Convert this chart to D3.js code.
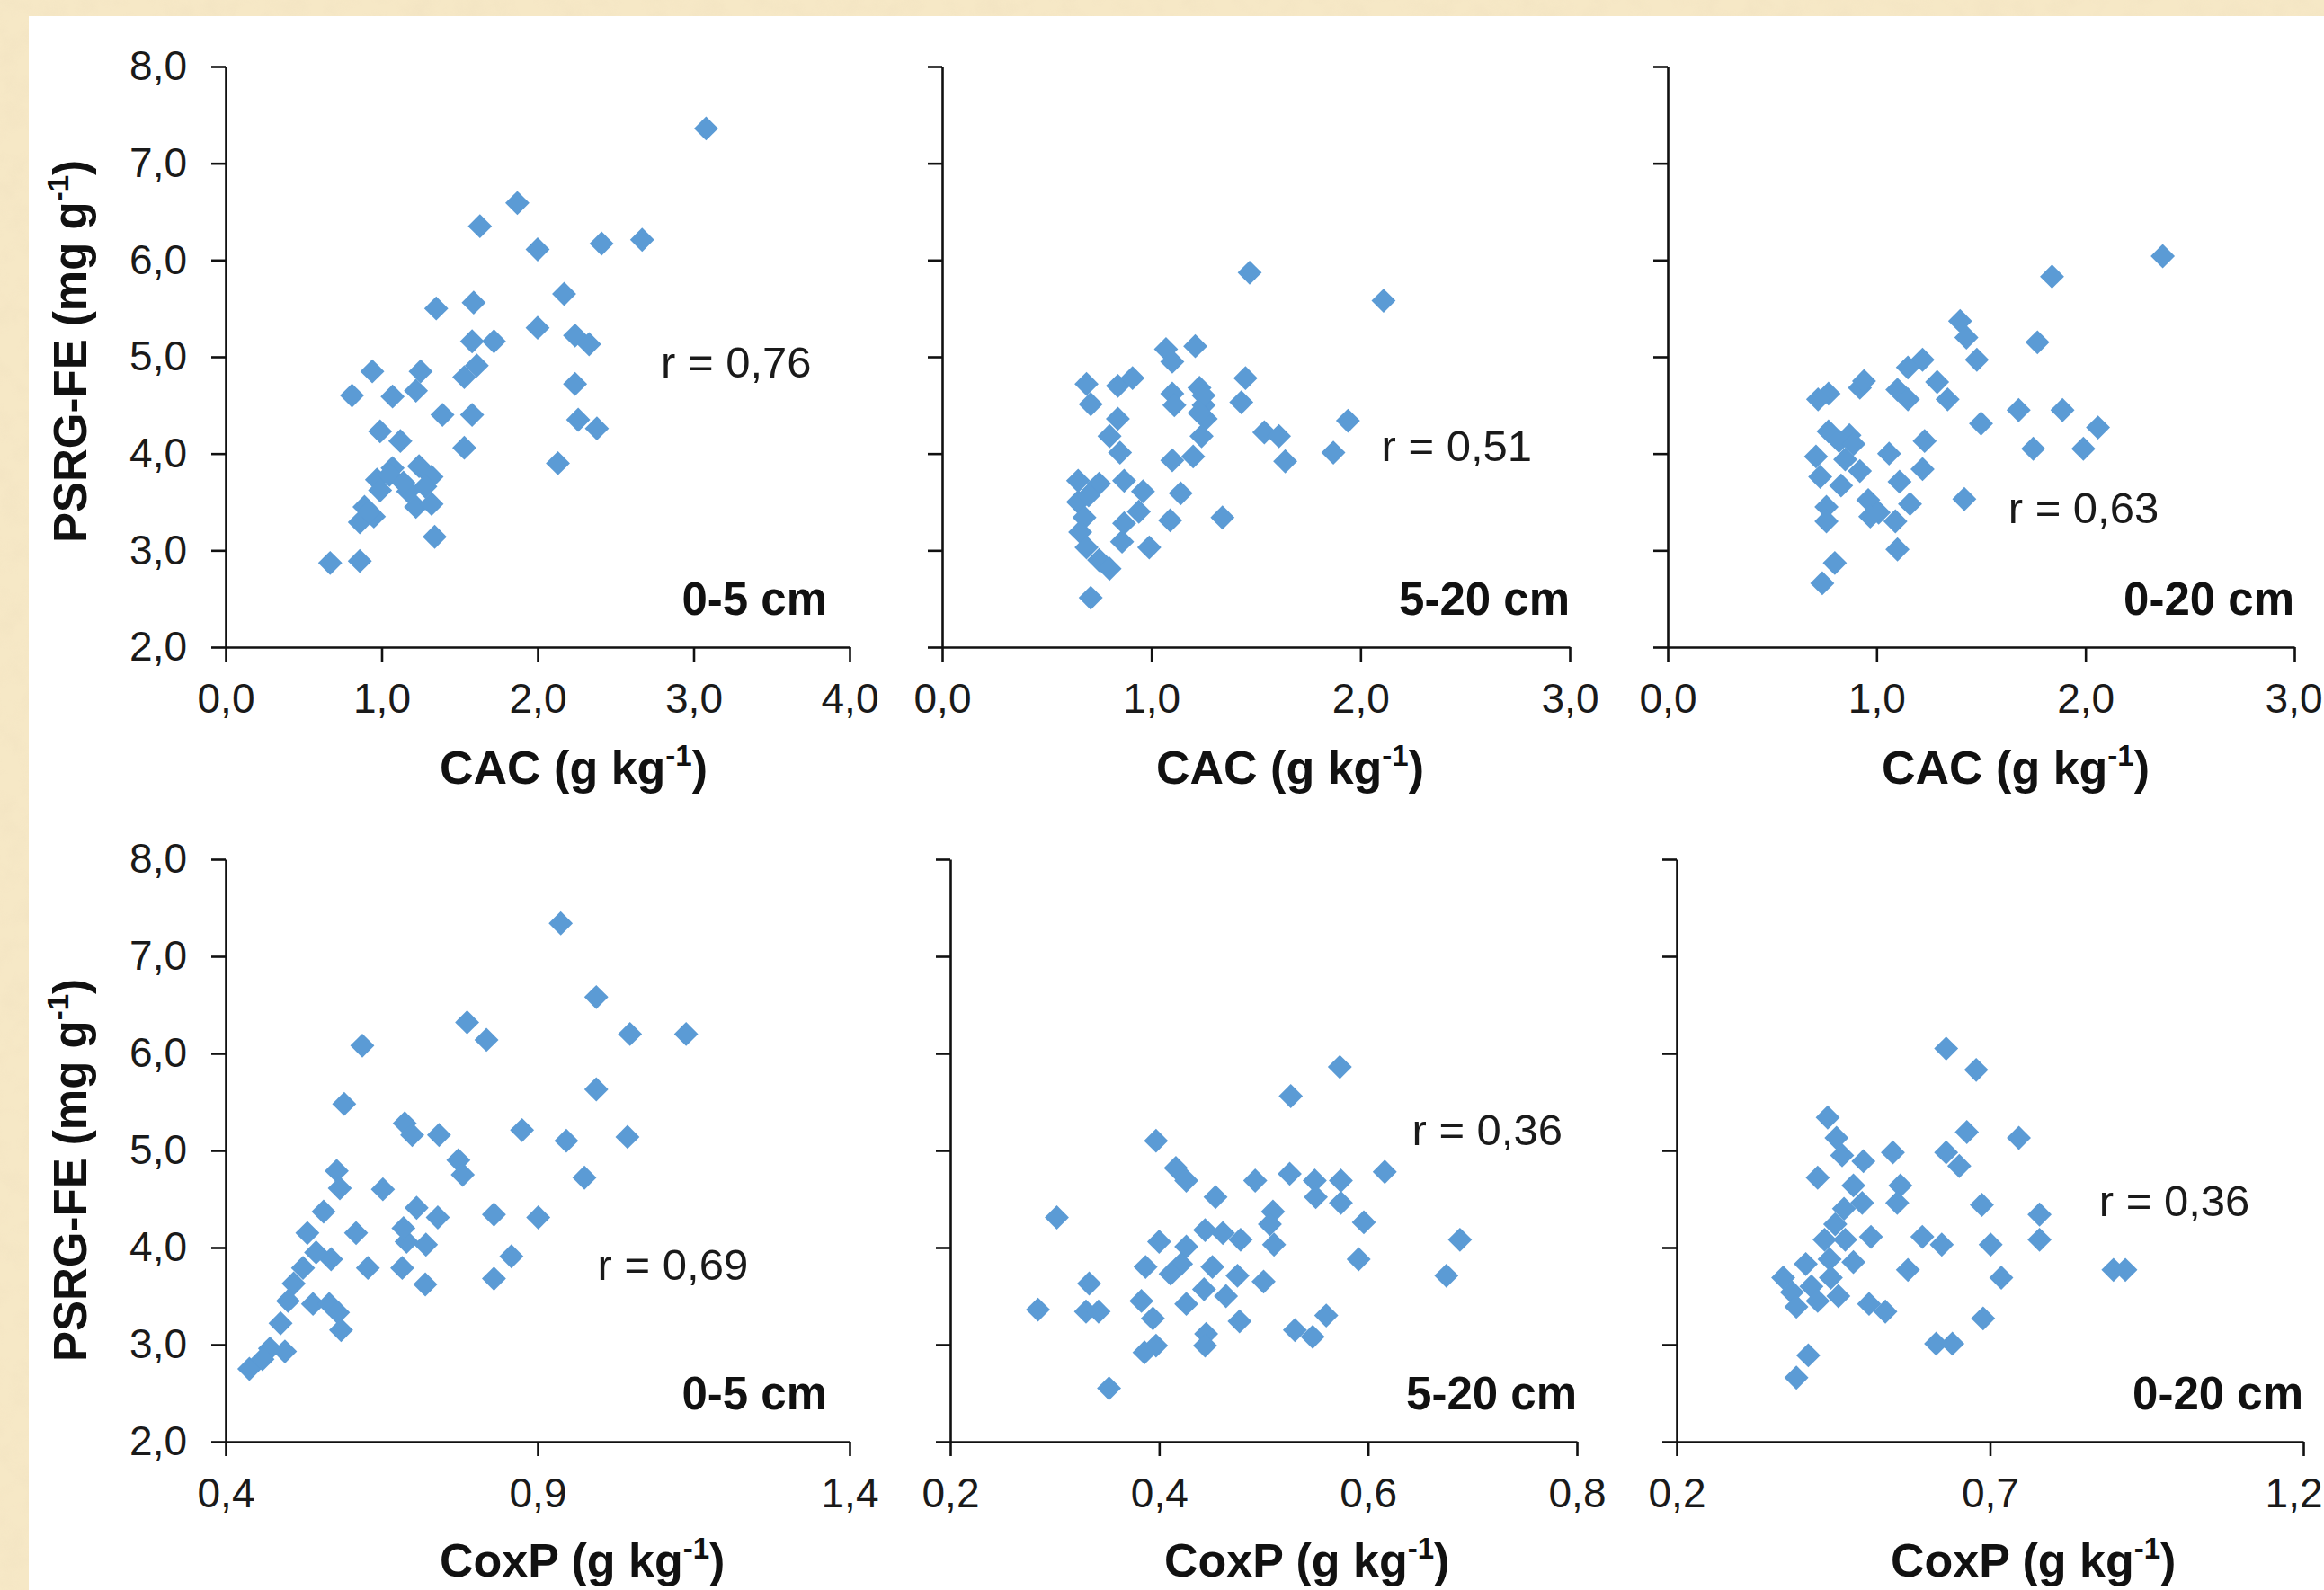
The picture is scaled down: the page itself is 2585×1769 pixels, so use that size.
<!DOCTYPE html>
<html>
<head>
<meta charset="utf-8">
<script src="https://cdn.jsdelivr.net/npm/d3@7"></script>
<style>
html, body { margin: 0; padding: 0; background: #f5e6c3; }
svg { display: block; }
</style>
</head>
<body>
<svg id="chart" width="2585" height="1769"></svg>
<script>
var W = 2585, H = 1769;

// tick values
var psrgTicks = [2, 3, 4, 5, 6, 7, 8];
var cacTicks05 = [0, 1, 2, 3, 4];
var cacTicks520 = [0, 1, 2, 3];
var cacTicks020 = [0, 1, 2, 3];
var coxpTicks05 = [0.4, 0.9, 1.4];
var coxpTicks520 = [0.2, 0.4, 0.6, 0.8];
var coxpTicks020 = [0.2, 0.7, 1.2];

var depths = ["0-5 cm", "5-20 cm", "0-20 cm"];
var rCac = ["0,76", "0,51", "0,63"];
var rCoxp = ["0,69", "0,36", "0,36"];

// [CAC, PSRG-FE]
var cac05 = [[3.08,7.36],[1.87,6.59],[1.63,6.35],[2.00,6.11],[2.41,6.17],[2.67,6.21],[2.17,5.65],[1.35,5.50],
  [1.59,5.56],[2.00,5.30],[2.24,5.22],[2.33,5.13],[1.58,5.16],[1.72,5.16],[1.61,4.91],[1.53,4.79],[2.24,4.72],
  [0.94,4.85],[0.81,4.60],[1.25,4.85],[1.07,4.59],[1.22,4.65],[1.39,4.40],[1.58,4.40],[0.99,4.23],[1.12,4.13],
  [1.53,4.06],[2.26,4.35],[2.38,4.26],[2.13,3.90],[1.24,3.87],[1.32,3.76],[1.17,3.61],[0.97,3.73],[0.89,3.45],
  [0.86,3.29],[1.22,3.45],[1.32,3.48],[1.34,3.14],[0.67,2.87],[0.86,2.89],[1.07,3.85],[0.99,3.62],[1.28,3.66],
  [0.95,3.35],[1.05,3.78],[1.14,3.70],[0.92,3.40]];
var cac520 = [[1.47,5.87],[2.11,5.58],[1.07,5.08],[1.21,5.11],[1.10,4.95],[0.69,4.72],[0.84,4.70],[0.91,4.78],
  [1.10,4.62],[1.23,4.68],[1.45,4.78],[0.71,4.51],[1.11,4.50],[1.25,4.50],[1.43,4.53],[0.84,4.36],[1.26,4.36],
  [1.94,4.34],[0.80,4.18],[1.54,4.22],[1.24,4.18],[1.61,4.18],[0.85,4.01],[1.87,4.01],[1.64,3.92],[1.10,3.93],
  [1.20,3.97],[0.65,3.72],[0.75,3.69],[0.87,3.72],[0.96,3.61],[1.14,3.59],[0.65,3.50],[0.94,3.40],[1.09,3.31],
  [1.34,3.34],[0.68,3.34],[0.66,3.19],[0.87,3.28],[0.69,3.03],[0.86,3.09],[0.99,3.03],[0.75,2.90],[0.80,2.81],
  [0.71,2.51],[1.25,4.60],[1.23,4.42],[0.70,3.57]];
var cac020 = [[2.37,6.04],[1.84,5.83],[1.40,5.37],[1.43,5.20],[1.77,5.15],[1.22,4.97],[1.15,4.89],[1.48,4.97],
  [1.29,4.74],[1.10,4.66],[0.92,4.68],[0.94,4.75],[0.77,4.62],[0.72,4.56],[1.34,4.56],[1.15,4.56],[1.68,4.45],
  [1.89,4.45],[1.50,4.31],[2.06,4.27],[1.23,4.13],[0.77,4.23],[0.87,4.19],[0.71,3.97],[0.82,4.13],[0.89,4.10],
  [1.06,4.00],[1.75,4.05],[1.99,4.05],[0.85,3.94],[0.92,3.82],[1.22,3.84],[1.11,3.71],[0.83,3.67],[0.73,3.76],
  [0.96,3.52],[1.01,3.39],[1.42,3.53],[1.16,3.48],[0.97,3.35],[1.09,3.30],[0.76,3.45],[0.76,3.30],[1.10,3.01],
  [0.80,2.87],[0.74,2.66]];

// [CoxP, PSRG-FE]
var coxp05 = [[0.937,7.34],[0.994,6.58],[0.787,6.32],[0.818,6.14],[1.048,6.20],[1.138,6.20],[0.619,6.08],
  [0.590,5.48],[0.994,5.63],[0.687,5.28],[0.699,5.16],[0.742,5.16],[0.875,5.21],[0.946,5.10],[1.044,5.14],
  [0.975,4.72],[0.578,4.79],[0.583,4.61],[0.773,4.90],[0.780,4.75],[0.652,4.60],[0.830,4.34],[0.557,4.37],
  [0.531,4.15],[0.609,4.15],[0.690,4.06],[0.901,4.31],[0.706,4.41],[0.685,4.20],[0.740,4.31],[0.721,4.03],
  [0.569,3.88],[0.628,3.79],[0.683,3.79],[0.858,3.91],[0.830,3.68],[0.545,3.95],[0.524,3.79],[0.509,3.63],
  [0.500,3.45],[0.540,3.42],[0.566,3.42],[0.580,3.33],[0.585,3.15],[0.488,3.22],[0.471,2.96],[0.438,2.75],
  [0.495,2.93],[0.459,2.85],[0.720,3.62]];
var coxp520 = [[0.573,5.86],[0.526,5.56],[0.616,4.78],[0.397,5.10],[0.416,4.82],[0.426,4.69],[0.492,4.69],
  [0.525,4.76],[0.549,4.69],[0.574,4.69],[0.454,4.52],[0.550,4.52],[0.509,4.37],[0.444,4.18],[0.461,4.15],
  [0.574,4.46],[0.596,4.26],[0.506,4.24],[0.478,4.08],[0.302,4.31],[0.688,4.08],[0.400,4.06],[0.426,4.01],
  [0.421,3.83],[0.451,3.80],[0.510,4.03],[0.591,3.88],[0.387,3.80],[0.411,3.73],[0.475,3.71],[0.500,3.65],
  [0.675,3.71],[0.443,3.57],[0.383,3.45],[0.333,3.63],[0.330,3.34],[0.342,3.34],[0.284,3.36],[0.394,3.27],
  [0.464,3.50],[0.426,3.42],[0.560,3.30],[0.530,3.15],[0.547,3.08],[0.445,3.11],[0.444,2.99],[0.397,2.99],
  [0.386,2.92],[0.477,3.24],[0.352,2.55]];
var coxp020 = [[0.630,6.05],[0.678,5.83],[0.746,5.13],[0.663,5.19],[0.441,5.34],[0.545,4.98],[0.630,4.98],
  [0.651,4.84],[0.455,5.13],[0.464,4.95],[0.498,4.89],[0.557,4.64],[0.425,4.72],[0.482,4.64],[0.496,4.46],
  [0.687,4.44],[0.779,4.34],[0.779,4.08],[0.552,4.46],[0.467,4.40],[0.453,4.24],[0.436,4.08],[0.469,4.08],
  [0.510,4.11],[0.592,4.11],[0.623,4.03],[0.569,3.77],[0.701,4.03],[0.444,3.88],[0.482,3.85],[0.446,3.69],
  [0.406,3.83],[0.370,3.69],[0.384,3.54],[0.415,3.60],[0.458,3.50],[0.507,3.42],[0.533,3.34],[0.391,3.39],
  [0.425,3.45],[0.718,3.69],[0.689,3.27],[0.614,3.01],[0.640,3.01],[0.410,2.89],[0.391,2.66],[0.897,3.77],
  [0.916,3.77]];

var FONT = '"Liberation Sans", Arial, sans-serif';
var BLUE = "#5b9bd5";
var fmt = function(d) { return d3.format(".1f")(d).replace(".", ","); };

// layout: pixel boxes of each plot, r-label spot in data units
var rows = [
  {top: 74, bottom: 720, title: "CAC", ytitleY: 391},
  {top: 956, bottom: 1604, title: "CoxP", ytitleY: 1302}
];
var panels = [
  {row: 0, pts: cac05,   ticks: cacTicks05,   x0: 251,  x1: 945,  depth: depths[0], inset: 25, r: rCac[0],  rAt: [2.79, 4.79]},
  {row: 0, pts: cac520,  ticks: cacTicks520,  x0: 1048, x1: 1746, depth: depths[1], inset: 0,  r: rCac[1],  rAt: [2.10, 3.92]},
  {row: 0, pts: cac020,  ticks: cacTicks020,  x0: 1855, x1: 2552, depth: depths[2], inset: 0,  r: rCac[2],  rAt: [1.63, 3.28]},
  {row: 1, pts: coxp05,  ticks: coxpTicks05,  x0: 251,  x1: 945,  depth: depths[0], inset: 25, r: rCoxp[0], rAt: [0.996, 3.67]},
  {row: 1, pts: coxp520, ticks: coxpTicks520, x0: 1057, x1: 1754, depth: depths[1], inset: 0,  r: rCoxp[1], rAt: [0.642, 5.06]},
  {row: 1, pts: coxp020, ticks: coxpTicks020, x0: 1865, x1: 2562, depth: depths[2], inset: 0,  r: rCoxp[2], rAt: [0.874, 4.32]}
];

var svg = d3.select("#chart");

// paper-like border and white sheet
var defs = svg.append("defs");
var f = defs.append("filter").attr("id", "paper").attr("x", 0).attr("y", 0).attr("width", 1).attr("height", 1);
f.append("feTurbulence").attr("type", "fractalNoise").attr("baseFrequency", 0.035).attr("numOctaves", 3).attr("seed", 7);
f.append("feColorMatrix").attr("type", "matrix")
  .attr("values", "0 0 0 0 0.86  0 0 0 0 0.74  0 0 0 0 0.52  1.3 0 0 0 -0.55");
svg.append("rect").attr("width", W).attr("height", H).attr("fill", "#f6e8c6");
svg.append("rect").attr("width", W).attr("height", H).attr("filter", "url(#paper)").attr("opacity", 0.6);
svg.append("rect").attr("x", 32).attr("y", 18).attr("width", W - 32).attr("height", H - 18).attr("fill", "#fff");

var diamond = d3.symbol().type(d3.symbolSquare).size(360);

panels.forEach(function(p, i) {
  var row = rows[p.row];
  var x = d3.scaleLinear().domain([p.ticks[0], p.ticks[p.ticks.length - 1]]).range([p.x0, p.x1]);
  var y = d3.scaleLinear().domain([2, 8]).range([row.bottom, row.top]);
  var g = svg.append("g");

  var xa = g.append("g").attr("transform", "translate(0," + row.bottom + ")")
    .call(d3.axisBottom(x).tickValues(p.ticks).tickSize(16).tickSizeOuter(0).tickPadding(24).tickFormat(fmt));
  var ya = g.append("g").attr("transform", "translate(" + p.x0 + ",0)")
    .call(d3.axisLeft(y).tickValues(psrgTicks).tickSize(16).tickSizeOuter(0).tickPadding(27)
      .tickFormat(i % 3 === 0 ? fmt : ""));
  [xa, ya].forEach(function(a) {
    a.attr("font-size", 46).attr("font-family", FONT);
    a.selectAll("path, line").attr("stroke", "#111").attr("stroke-width", 2.6);
    a.selectAll("text").attr("fill", "#1a1a1a");
  });

  // keep the last tick label of the right-hand panels inside the page
  xa.selectAll(".tick").each(function(d) {
    var txt = d3.select(this).select("text");
    var half = txt.node().getComputedTextLength() / 2;
    var over = x(d) + half - (W - 2);
    if (over > 0) txt.attr("x", -over);
  });

  g.append("g").selectAll("path").data(p.pts).enter().append("path")
    .attr("d", diamond)
    .attr("fill", BLUE)
    .attr("transform", function(d) { return "translate(" + x(d[0]) + "," + y(d[1]) + ") rotate(45)"; });

  g.append("text")
    .attr("x", x(p.rAt[0])).attr("y", y(p.rAt[1]))
    .attr("font-family", FONT).attr("font-size", 49).attr("fill", "#1a1a1a")
    .text("r = " + p.r);

  g.append("text")
    .attr("x", p.x1 - p.inset).attr("y", row.bottom - 36)
    .attr("text-anchor", "end")
    .attr("font-family", FONT).attr("font-size", 51).attr("font-weight", "bold").attr("fill", "#111")
    .text(p.depth);

  // x title with superscript
  var t = g.append("text")
    .attr("x", p.x0 + 238).attr("y", p.row === 0 ? 872 : 1754)
    .attr("font-family", FONT).attr("font-size", 52).attr("font-weight", "bold").attr("fill", "#111");
  t.append("tspan").text(row.title + " (g kg");
  t.append("tspan").attr("dy", -20).attr("font-size", 33).text("-1");
  t.append("tspan").attr("dy", 20).text(")");
});

// y titles
rows.forEach(function(row) {
  var t = svg.append("text")
    .attr("transform", "translate(96," + row.ytitleY + ") rotate(-90)")
    .attr("text-anchor", "middle")
    .attr("font-family", FONT).attr("font-size", 51).attr("font-weight", "bold").attr("fill", "#111");
  t.append("tspan").text("PSRG-FE (mg g");
  t.append("tspan").attr("dy", -20).attr("font-size", 33).text("-1");
  t.append("tspan").attr("dy", 20).text(")");
});
</script>
</body>
</html>
